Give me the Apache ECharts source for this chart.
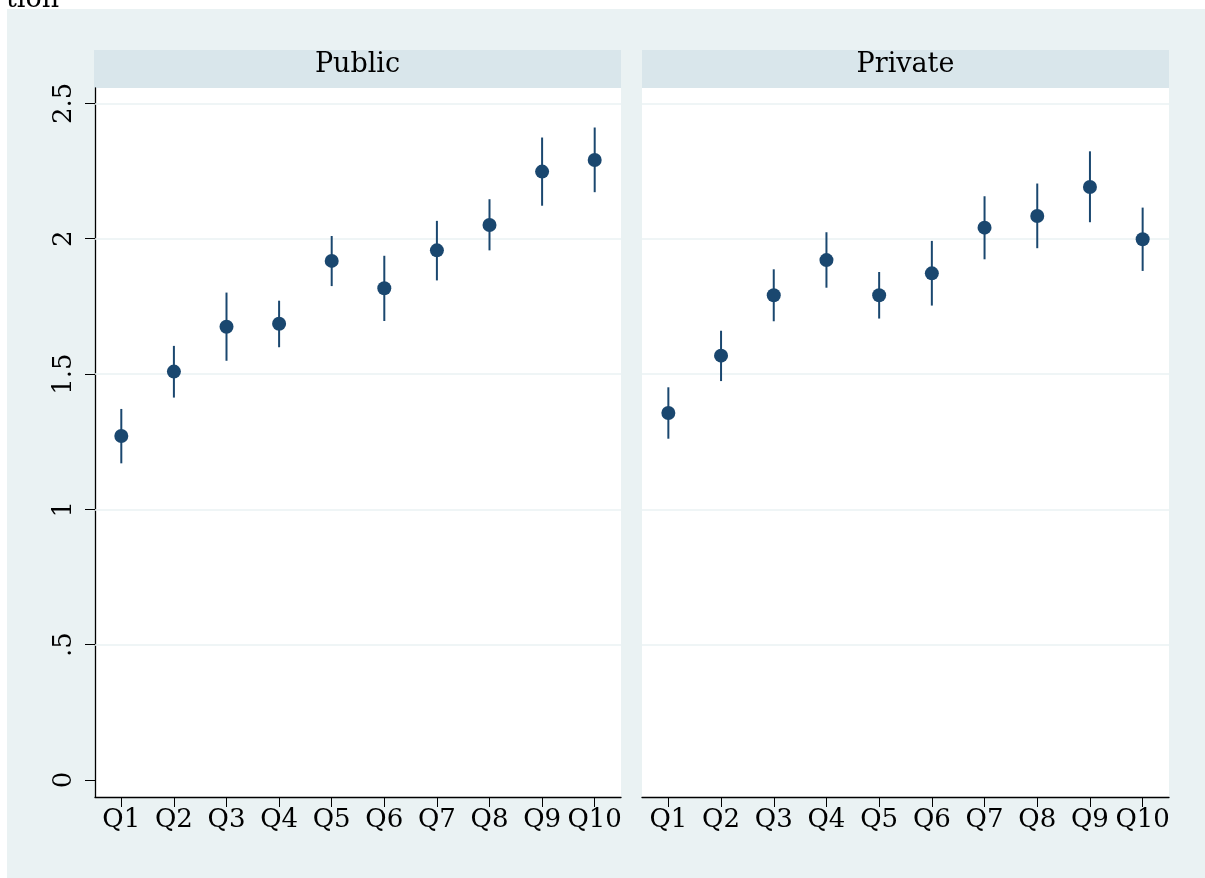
<!DOCTYPE html>
<html><head><meta charset="utf-8">
<script src="https://cdn.jsdelivr.net/npm/echarts@6/dist/echarts.min.js"></script>
<style>html,body{margin:0;padding:0;background:#fff}#c{width:1205px;height:878px}</style>
</head><body><div id="c"></div>
<script>
const categories = ['Q1','Q2','Q3','Q4','Q5','Q6','Q7','Q8','Q9','Q10'];
const panelTitles = ['Public','Private'];
const publicMean = [1.271,1.509,1.675,1.686,1.918,1.817,1.957,2.051,2.248,2.291];
const publicLow  = [1.170,1.413,1.549,1.599,1.825,1.696,1.846,1.957,2.122,2.172];
const publicHigh = [1.371,1.604,1.801,1.771,2.010,1.937,2.066,2.146,2.374,2.411];
const privateMean = [1.356,1.568,1.791,1.921,1.791,1.872,2.041,2.084,2.191,1.998];
const privateLow  = [1.261,1.474,1.695,1.819,1.705,1.753,1.924,1.965,2.061,1.881];
const privateHigh = [1.451,1.660,1.887,2.024,1.877,1.992,2.157,2.204,2.323,2.115];
const yTicks = [0,0.5,1,1.5,2,2.5];
const gridLineValues = [0.5,1,1.5,2,2.5];

const FONT = 'DejaVu Serif';
const NAVY = '#1a476f';
const chart = echarts.init(document.getElementById('c'));

const grids = [
  {left:95, top:88, width:526, height:709},
  {left:642, top:88, width:527, height:709}
].map(g => Object.assign({show:true, backgroundColor:'#ffffff', borderWidth:0, outerBoundsMode:'none'}, g));

function xAxisFor(i){
  return {
    type:'category', gridIndex:i, data:categories, boundaryGap:true,
    axisLine:{show:true, onZero:false, lineStyle:{color:'#000', width:1.3}},
    axisTick:{show:true, alignWithLabel:true, length:10, lineStyle:{color:'#000', width:1}},
    axisLabel:{interval:0, fontFamily:FONT, fontSize:26, color:'#000', margin:10, hideOverlap:false},
    splitLine:{show:false}
  };
}
function yAxisFor(i){
  return {
    type:'value', gridIndex:i, min:-0.063, max:2.557, show: i===0,
    axisLine:{show:true, onZero:false, lineStyle:{color:'#000', width:1.3}},
    axisTick:{show:true, length:10, customValues:yTicks, lineStyle:{color:'#000', width:1}},
    axisLabel:{customValues:yTicks, rotate:90, fontFamily:FONT, fontSize:26, color:'#000', margin:18,
      formatter: v => (v === 0 ? '0' : String(v).replace(/^0\./, '.'))},
    splitLine:{show:false}
  };
}

function errorSeries(i, low, high){
  return {
    type:'custom', xAxisIndex:i, yAxisIndex:i, z:3,
    data: low.map((l, k) => [k, l, high[k]]),
    encode:{x:0, y:[1,2]},
    renderItem(params, api){
      const x = api.value(0);
      const p1 = api.coord([x, api.value(1)]);
      const p2 = api.coord([x, api.value(2)]);
      return {type:'line', shape:{x1:p1[0], y1:p1[1], x2:p2[0], y2:p2[1]},
        style:{stroke:NAVY, lineWidth:2}};
    }
  };
}
function pointSeries(i, mean){
  return {type:'scatter', xAxisIndex:i, yAxisIndex:i, z:4, data:mean,
    symbol:'circle', symbolSize:14, itemStyle:{color:NAVY, opacity:1}};
}
function gridLineSeries(i){
  return {type:'line', xAxisIndex:i, yAxisIndex:i, z:1, data:[], silent:true,
    markLine:{z:1, silent:true, symbol:['none','none'], label:{show:false},
      lineStyle:{color:'#eaf2f3', width:1.5, type:'solid'},
      emphasis:{disabled:true},
      data: gridLineValues.map(v => ({yAxis:v}))}};
}

chart.setOption({
  animation:false,
  backgroundColor:'#ffffff',
  grid: grids,
  xAxis:[xAxisFor(0), xAxisFor(1)],
  yAxis:[yAxisFor(0), yAxisFor(1)],
  graphic:[
    {type:'rect', z:-10, shape:{x:7, y:9, width:1198, height:869}, style:{fill:'#eaf2f3'}},
    {type:'rect', shape:{x:94, y:50, width:527, height:38}, style:{fill:'#d9e6eb'}},
    {type:'rect', shape:{x:642, y:50, width:527, height:38}, style:{fill:'#d9e6eb'}},
    {type:'text', x:357.5, y:65, style:{text:panelTitles[0], font:'27px "DejaVu Serif"', fill:'#000', textAlign:'center', textVerticalAlign:'middle'}},
    {type:'text', x:905.5, y:65, style:{text:panelTitles[1], font:'27px "DejaVu Serif"', fill:'#000', textAlign:'center', textVerticalAlign:'middle'}},
    {type:'text', x:6, y:13, style:{text:'tion', font:'27px "DejaVu Serif"', fill:'#000', textAlign:'left', textVerticalAlign:'bottom'}}
  ],
  series:[
    gridLineSeries(0), errorSeries(0, publicLow, publicHigh), pointSeries(0, publicMean),
    gridLineSeries(1), errorSeries(1, privateLow, privateHigh), pointSeries(1, privateMean)
  ]
});
</script>
</body></html>
